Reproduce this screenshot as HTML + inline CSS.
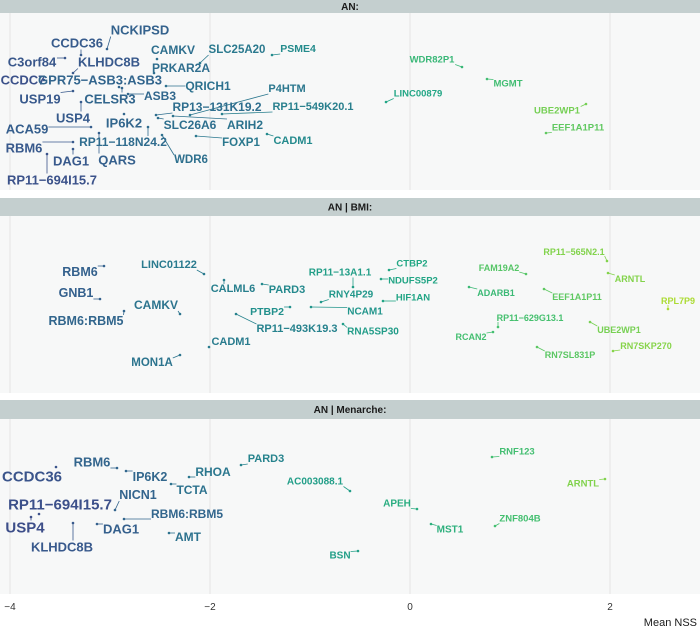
<!DOCTYPE html>
<html><head><meta charset="utf-8"><style>
body{margin:0;background:#fff;}
svg{display:block;font-family:"Liberation Sans",sans-serif;}
</style></head><body>
<svg id="chart" width="700" height="628" viewBox="0 0 700 628"></svg>
<script>
// x axis ticks
const xTicks = [-4, -2, 0, 2];
const xTickLabels = ["\u22124", "\u22122", "0", "2"];
const facetTitles = ["AN:", "AN | BMI:", "AN | Menarche:"];

// Panel 1: AN
const p1Names = ["NCKIPSD","CCDC36","C3orf84","KLHDC8B","CCDC7","GPR75\u2212ASB3:ASB3","QRICH1","USP19","CELSR3","USP4","ASB3","P4HTM","RP13\u2212131K19.2","RP11\u2212549K20.1","IP6K2","SLC26A6","ARIH2","ACA59","RP11\u2212118N24.2","FOXP1","CADM1","RBM6","DAG1","QARS","WDR6","RP11\u2212694I15.7","CAMKV","PRKAR2A","SLC25A20","PSME4","WDR82P1","MGMT","LINC00879","UBE2WP1","EEF1A1P11"];
const p1X  = [-3.03,-3.29,-3.45,-3.37,-3.66,-2.91,-2.44,-3.37,-2.88,-3.29,-2.82,-2.20,-2.54,-1.88,-2.86,-2.52,-2.37,-3.19,-2.62,-2.14,-1.43,-3.37,-3.37,-3.11,-2.48,-3.63,-2.53,-2.56,-2.10,-1.38,0.52,0.77,-0.24,1.76,1.36];
const p1Y  = [36,42,45,60,67,74,73,78,75,89,81,102,102,101,101,105,103,114,114,123,121,129,136,120,122,141,46,60,50,42,54,66,89,91,120];
const p1LX = [-2.70,-3.33,-3.78,-3.01,-3.87,-3.10,-2.02,-3.70,-3.00,-3.37,-2.50,-1.23,-1.93,-0.97,-2.86,-2.20,-1.65,-3.83,-2.87,-1.69,-1.17,-3.86,-3.39,-2.93,-2.19,-3.58,-2.37,-2.29,-1.73,-1.12,0.22,0.98,0.08,1.47,1.68];
const p1LY = [17,30,49,49,67,67,73,86,86,105,83,76,94,94,110,112,112,116,129,130,128,135,148,147,147,167,37,55,37,36,47,71,81,98,115];
const p1Size = [13,13,13,13,13,13,12,13,13,13,12,11,12,11,13,12,12,13,12,11.5,11,13,13,13,11.5,13,12,12,11.5,10.5,9.5,9.5,9.5,9.5,9.5];

// Panel 2: AN | BMI
const p2Names = ["RBM6","GNB1","RBM6:RBM5","CAMKV","LINC01122","CALML6","PARD3","PTBP2","RP11\u2212493K19.3","CADM1","MON1A","RP11\u221213A1.1","RNY4P29","NCAM1","RNA5SP30","CTBP2","NDUFS5P2","HIF1AN","FAM19A2","ADARB1","RP11\u2212565N2.1","ARNTL","EEF1A1P11","RPL7P9","RP11\u2212629G13.1","RCAN2","UBE2WP1","RN7SL831P","RN7SKP270"];
const p2X  = [-3.06,-3.10,-2.86,-2.30,-2.06,-1.86,-1.48,-1.20,-1.74,-2.01,-2.30,-0.57,-0.89,-0.99,-0.67,-0.21,-0.29,-0.27,1.16,0.59,1.97,1.98,1.34,2.58,0.88,0.83,1.80,1.27,2.03];
const p2Y  = [50,83,95,98,58,64,68,91,98,131,139,71,86,91,108,54,63,85,58,71,45,57,73,93,111,116,106,131,135];
const p2LX = [-3.30,-3.34,-3.24,-2.54,-2.41,-1.77,-1.23,-1.43,-1.13,-1.79,-2.58,-0.70,-0.59,-0.45,-0.37,0.02,0.03,0.03,0.89,0.86,1.64,2.20,1.67,2.68,1.20,0.61,2.09,1.60,2.36];
const p2LY = [56,77,105,89,49,73,74,96,113,126,147,57,79,96,116,48,65,82,52,77,36,63,81,85,102,121,114,139,130];
const p2Size = [12.5,12.5,12.5,12,11,11,11,10.5,11,11,11.5,10,10,10,10,9.5,9.5,9.5,9,9,9,9,9,9,9,9,9,9,9];

// Panel 3: AN | Menarche
const p3Names = ["CCDC36","RBM6","IP6K2","RHOA","TCTA","PARD3","NICN1","RP11\u2212694I15.7","USP4","RBM6:RBM5","DAG1","KLHDC8B","AMT","AC003088.1","APEH","MST1","BSN","RNF123","ZNF804B","ARNTL"];
const p3X  = [-3.54,-2.93,-2.84,-2.21,-2.39,-1.69,-2.95,-3.71,-3.79,-2.86,-3.13,-3.37,-2.41,-0.60,0.07,0.21,-0.52,0.82,0.85,1.95];
const p3Y  = [48,49,52,58,65,46,91,95,98,100,105,104,114,72,90,105,132,38,107,60];
const p3LX = [-3.78,-3.18,-2.60,-1.97,-2.18,-1.44,-2.72,-3.50,-3.85,-2.23,-2.89,-3.48,-2.22,-0.95,-0.13,0.40,-0.70,1.07,1.10,1.73];
const p3LY = [58,43,58,53,71,40,76,86,109,95,110,128,118,63,85,111,137,33,100,65];
const p3Size = [15,13,12.5,12,12,11,12.5,15,15,12,13,13,12,10,10,10,10,9.5,9.5,9.5];

const NS = "http://www.w3.org/2000/svg";
const svg = document.getElementById("chart");
const X0 = 410, XU = 100;
function xScale(v){ return X0 + v*XU; }
const vir = ["#440154","#482475","#414487","#355f8d","#2a788e","#21918c","#22a884","#44bf70","#7ad151","#bddf26","#fde725"];
function hex(h){return [parseInt(h.slice(1,3),16),parseInt(h.slice(3,5),16),parseInt(h.slice(5,7),16)];}
function color(x){
  let t = Math.max(0, Math.min(1, 0.615 + 0.1*x));
  let i = Math.min(9, Math.floor(t*10)), f = t*10 - i;
  const a = hex(vir[i]), b = hex(vir[i+1]);
  return "rgb(" + a.map((c,k)=>Math.round(c+(b[k]-c)*f)).join(",") + ")";
}
function el(tag, attrs, parent){
  const e = document.createElementNS(NS, tag);
  for (const k in attrs) e.setAttribute(k, attrs[k]);
  (parent||svg).appendChild(e);
  return e;
}
const panels = [
  {top:13, bottom:190, strip:0, names:p1Names, xs:p1X, ys:p1Y, lx:p1LX, ly:p1LY, sz:p1Size},
  {top:216, bottom:393, strip:198, names:p2Names, xs:p2X, ys:p2Y, lx:p2LX, ly:p2LY, sz:p2Size},
  {top:419, bottom:594, strip:400, names:p3Names, xs:p3X, ys:p3Y, lx:p3LX, ly:p3LY, sz:p3Size}
];
panels.forEach((p, pi) => {
  const yScale = v => p.top + v;
  const strip = el("rect", {x:0, y:p.strip, width:700, height:p.top-p.strip, fill:"#c4cfcf"});
  
  
  const st = el("text", {x:350, y:(p.strip+p.top)/2+3.5, "text-anchor":"middle", "font-size":10, "font-weight":"bold", fill:"#1a1a1a"});
  st.textContent = facetTitles[pi];
  
  
  const bg = el("rect", {x:0, y:p.top, width:700, height:p.bottom-p.top, fill:"#f7f8f8"});
  
  
  xTicks.forEach(t => {
    const g = el("line", {x1:xScale(t), x2:xScale(t), y1:p.top, y2:p.bottom, stroke:"#e8e8e8", "stroke-width":1.2});
    
    
  });
  const gSeg = el("g", {});
  const gPts = el("g", {});
  const gTxt = el("g", {});
  p.names.forEach((n, i) => {
    const c = color(p.xs[i]);
    const px = xScale(p.xs[i]), py = yScale(p.ys[i]);
    const pt = el("circle", {cx:px, cy:py, r:1.3, fill:c}, gPts);
    
    
    const tx = el("text", {x:xScale(p.lx[i]), y:yScale(p.ly[i]), "text-anchor":"middle", "dominant-baseline":"central", "font-size":p.sz[i], "font-weight":"bold", fill:c}, gTxt);
    tx.textContent = n;
    
    
    const bb = tx.getBBox();
    const qx = Math.max(bb.x, Math.min(px, bb.x+bb.width));
    const qy = Math.max(bb.y+1, Math.min(py, bb.y+bb.height-1));
    if (Math.hypot(qx-px, qy-py) > 3) {
      const s = el("line", {x1:px, y1:py, x2:qx, y2:qy, stroke:c, "stroke-width":0.8}, gSeg);
      
      
    }
  });
});
xTicks.forEach((t, i) => {
  const tl = el("text", {x:xScale(t), y:610, "text-anchor":"middle", "font-size":10, fill:"#333"});
  tl.textContent = xTickLabels[i];
  
  
});
const xt = el("text", {x:697, y:626, "text-anchor":"end", "font-size":11, fill:"#1a1a1a"});
xt.textContent = "Mean NSS";


</script>
</body></html>
